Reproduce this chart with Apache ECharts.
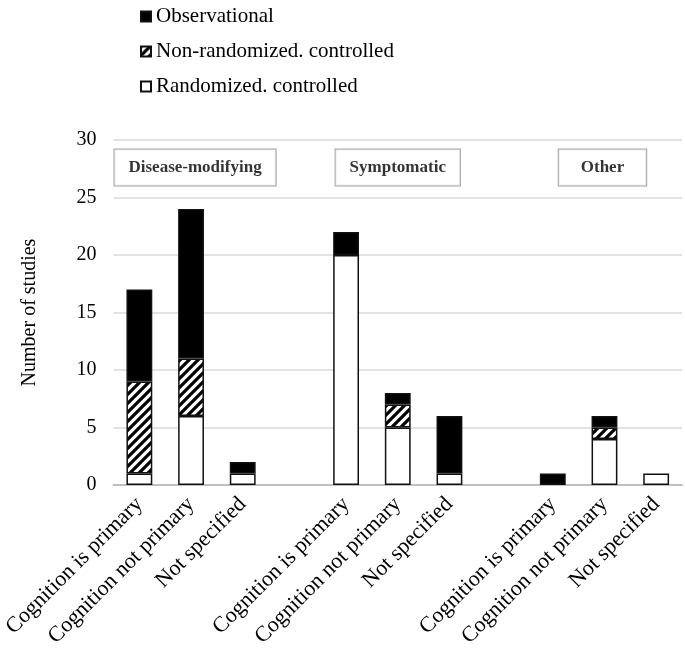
<!DOCTYPE html>
<html>
<head>
<meta charset="utf-8">
<script src="https://cdn.jsdelivr.net/npm/echarts@6/dist/echarts.min.js"></script>
<style>
html,body{margin:0;padding:0;background:#fff;}
#chart{width:685px;height:653px;}
</style>
</head>
<body>
<div id="chart"></div>
<script>
// ---- data ----
const groups = ['Disease-modifying', 'Symptomatic', 'Other'];
const subCategories = ['Cognition is primary', 'Cognition not primary', 'Not specified'];
const randomized    = [1, 6, 1,   20, 5, 1,   0, 4, 1];
const nonRandomized = [8, 5, 0,    0, 2, 0,   0, 1, 0];
const observational = [8, 13, 1,   2, 1, 5,   1, 1, 0];
const yTicks = [0, 5, 10, 15, 20, 25, 30];
const groupLabelValue = 27.6;

// build category axis with an empty slot between groups
const categories = [];
const slotIndex = [];
groups.forEach((g, gi) => {
  subCategories.forEach((c) => { slotIndex.push(categories.length); categories.push(c); });
  if (gi < groups.length - 1) categories.push('');
});
function toSlots(arr) {
  const out = categories.map(() => '-');
  arr.forEach((v, i) => { out[slotIndex[i]] = v === 0 ? '-' : v; });
  return out;
}

function makeHatch() {
  const s = 9;
  const c = document.createElement('canvas');
  c.width = s; c.height = s;
  const ctx = c.getContext('2d');
  ctx.fillStyle = '#fff';
  ctx.fillRect(0, 0, s, s);
  ctx.strokeStyle = '#000';
  ctx.lineWidth = 3.2;
  ctx.beginPath();
  ctx.moveTo(-s, 2 * s); ctx.lineTo(2 * s, -s);
  ctx.moveTo(-s, s); ctx.lineTo(s, -s);
  ctx.moveTo(0, 2 * s); ctx.lineTo(2 * s, 0);
  ctx.stroke();
  return c;
}

const font = '"Liberation Serif", "Times New Roman", serif';
const chart = echarts.init(document.getElementById('chart'), null, { renderer: 'canvas' });

const barBase = {
  type: 'bar',
  stack: 'total',
  barWidth: '50%',
  emphasis: { disabled: true }
};

// label box styling per group (text box look of the original)
const groupBoxStyle = [
  { offset: [4, 0], padding: [10, 14, 9, 14] },
  { offset: [0, 0], padding: [10, 14, 9, 14] },
  { offset: [-2, 0], padding: [10, 22, 9, 22] }
];
const groupData = groups.map((g, gi) => ({
  value: [slotIndex[gi * 3 + 1], groupLabelValue],
  name: g,
  label: groupBoxStyle[gi]
}));

chart.setOption({
  animation: false,
  textStyle: { fontFamily: font },
  legend: {
    orient: 'vertical',
    left: 135,
    top: 1,
    itemWidth: 10,
    itemHeight: 10,
    itemGap: 14,
    icon: 'rect',
    data: ['Observational', 'Non-randomized. controlled', 'Randomized. controlled'],
    textStyle: { fontFamily: font, fontSize: 21, color: '#000', padding: [0, 0, 0, 0] }
  },
  grid: { left: 110, right: 3, top: 140, bottom: 168, containLabel: false },
  xAxis: {
    type: 'category',
    data: categories,
    axisTick: { show: false },
    axisLine: { lineStyle: { color: '#bfbfbf', width: 2 } },
    axisLabel: {
      interval: 0,
      rotate: 45,
      fontSize: 22,
      color: '#000',
      fontFamily: font,
      margin: 16
    }
  },
  yAxis: {
    type: 'value',
    min: yTicks[0],
    max: yTicks[yTicks.length - 1],
    interval: yTicks[1] - yTicks[0],
    name: 'Number of studies',
    nameLocation: 'middle',
    nameGap: 74,
    nameTextStyle: { fontFamily: font, fontSize: 20, color: '#000' },
    axisLine: { show: false },
    axisTick: { show: false },
    axisLabel: { fontSize: 20, color: '#000', fontFamily: font, margin: 17 },
    splitLine: { lineStyle: { color: '#d9d9d9', width: 1.5 } }
  },
  series: [
    Object.assign({}, barBase, {
      name: 'Randomized. controlled',
      data: toSlots(randomized),
      itemStyle: { color: '#fff', borderColor: '#111', borderWidth: 1.5 }
    }),
    Object.assign({}, barBase, {
      name: 'Non-randomized. controlled',
      data: toSlots(nonRandomized),
      itemStyle: { color: { image: makeHatch(), repeat: 'repeat' }, borderColor: '#111', borderWidth: 1.5 }
    }),
    Object.assign({}, barBase, {
      name: 'Observational',
      data: toSlots(observational),
      itemStyle: { color: '#000', borderColor: '#111', borderWidth: 1.5 }
    }),
    {
      type: 'scatter',
      name: 'groups',
      data: groupData,
      symbolSize: 0,
      silent: true,
      z: 10,
      label: {
        show: true,
        position: 'inside',
        formatter: (p) => p.name,
        fontFamily: font,
        fontWeight: 'bold',
        fontSize: 17,
        color: '#000',
        backgroundColor: '#fff',
        borderColor: '#8c8c8c',
        borderWidth: 1
      }
    }
  ]
});
</script>
</body>
</html>
